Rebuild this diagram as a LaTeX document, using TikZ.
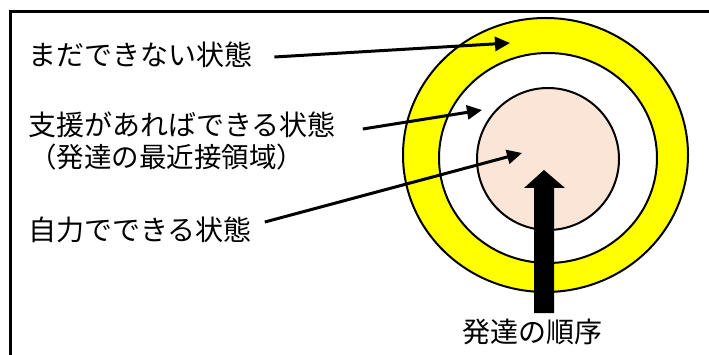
\documentclass[tikz,border=0pt]{standalone}
\usepackage{fontspec}
\newfontfamily\jpfont{Noto Sans CJK JP}
\usetikzlibrary{arrows.meta}
\definecolor{zonepink}{HTML}{FBE5D6}
\definecolor{zoneyellow}{HTML}{FFFF00}
\tikzset{
  label/.style={anchor=west, inner sep=0pt, font=\jpfont\fontsize{28}{32}\selectfont},
  pointer/.style={line width=3pt, -{Triangle[length=15pt,width=14pt]}},
  zone/.style={draw, line width=2pt}
}
\begin{document}
\begin{tikzpicture}[x=1pt,y=-1pt]
  \useasboundingbox (0,0) rectangle (709,355);
  \clip (0,0) rectangle (709,355);
  {\jpfont

  % Frame, only the top and left edges are inside the picture
  \draw [line width=2.5pt] (10.5,11.5) rectangle (730,380);%

  % Drawing zones
  \draw [zone, fill=zoneyellow] (545.5,155) ellipse (142.5 and 137);%
  \draw [zone, fill=white] (548,158) ellipse (109 and 105);%
  \draw [zone, fill=zonepink] (548,159) circle (71);%

  % Marking the arrow tips
  \coordinate (tipyet) at (510,43);%
  \coordinate (tipzpd) at (482,110);%
  \coordinate (tipself) at (522,153);%

  % Marking labels
  \node (notyet) [label] at (28,55) {まだできない状態};%
  \node (support) [label] at (28,125) {支援があればできる状態};%
  \node (zpd) [label, font=\jpfont\fontsize{27.5}{30}\selectfont] at (29,157) {（発達の最近接領域）};%
  \node (self) [label] at (28,230) {自力でできる状態};%
  \node (order) [label, anchor=center] at (532,332) {発達の順序};%

  % Drawing pointers
  \draw [pointer] ([xshift=22pt,yshift=-2pt]notyet.east) -- (tipyet);%
  \draw [pointer] ([xshift=27pt,yshift=-4pt]support.east) -- (tipzpd);%
  \draw [pointer] ([xshift=13pt,yshift=8pt]self.east) -- (tipself);%

  % Drawing the big arrow
  \fill (534,313) -- (534,188) -- (524,188) -- (544,170) -- (565,188) -- (554,188) -- (554,313) -- cycle;%
  }
\end{tikzpicture}
\end{document}
